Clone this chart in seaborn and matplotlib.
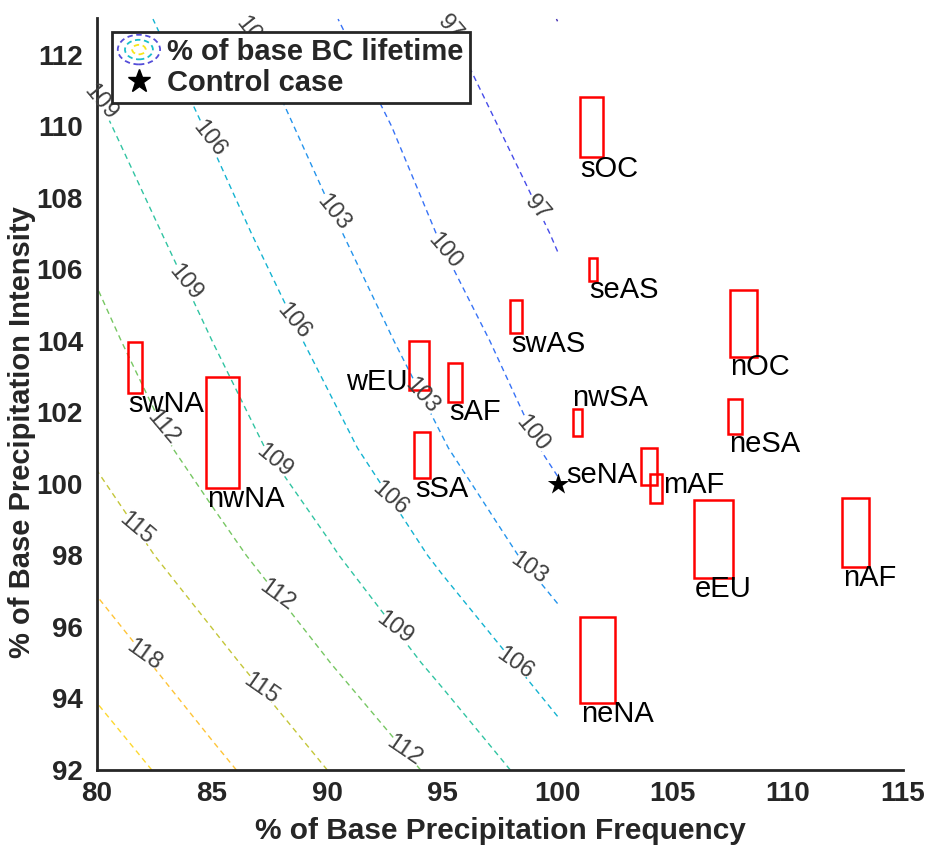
import numpy as np
import pandas as pd
import matplotlib
matplotlib.use("Agg")
import matplotlib.pyplot as plt
from matplotlib.patches import Rectangle, Ellipse
from matplotlib.legend_handler import HandlerBase
from matplotlib.lines import Line2D
from matplotlib.colors import LinearSegmentedColormap, Normalize
import seaborn as sns

# ---- BC lifetime (% of base) on the frequency / intensity grid ----
freq_grid = [80, 85, 90, 95, 100]
inten_grid = [92, 95, 98, 101, 104, 107, 110, 113]
lifetime_pct = [
    [123.0, 118.8, 115.0, 111.3, 107.4],
    [119.8, 115.9, 112.1, 108.3, 104.6],
    [116.9, 113.1, 109.4, 105.5, 101.7],
    [114.5, 110.7, 107.0, 103.2, 99.4],
    [112.8, 109.0, 105.2, 101.4, 98.0],
    [111.2, 107.3, 103.5, 99.8, 96.8],
    [109.5, 105.7, 101.9, 98.5, 95.4],
    [107.8, 104.1, 100.3, 97.1, 93.97],
]
contour_levels = [94, 97, 100, 103, 106, 109, 112, 115, 118, 121]

# ---- regional ranges of frequency / intensity change ----
regions = ["sOC", "seAS", "swAS", "nOC", "nwSA", "neSA", "seNA", "mAF",
           "eEU", "nAF", "neNA", "swNA", "nwNA", "wEU", "sAF", "sSA"]
freq_lo = [100.97, 101.35, 97.95, 107.47, 100.65, 107.38, 103.62, 104.01,
           105.92, 112.33, 100.97, 81.33, 84.75, 93.55, 95.23, 93.76]
freq_hi = [101.98, 101.72, 98.44, 108.66, 101.07, 108.02, 104.30, 104.55,
           107.60, 113.53, 102.49, 81.97, 86.15, 94.42, 95.86, 94.46]
inten_lo = [109.13, 105.68, 104.22, 103.56, 101.35, 101.40, 99.97, 99.48,
            97.37, 97.67, 93.88, 102.54, 99.88, 102.63, 102.29, 100.16]
inten_hi = [110.83, 106.33, 105.15, 105.41, 102.09, 102.37, 101.01, 100.28,
            99.55, 99.60, 96.29, 103.98, 103.00, 104.01, 103.39, 101.46]

control_case = {"freq": [100.0], "inten": [100.0]}

# ---- layout: where each region name sits (baseline, left/right anchor) ----
label_anchor = {
    "sOC": (100.97, 108.59, "left"), "seAS": (101.38, 105.19, "left"),
    "swAS": (98.00, 103.70, "left"), "nOC": (107.51, 103.05, "left"),
    "nwSA": (100.61, 102.18, "left"), "neSA": (107.43, 100.88, "left"),
    "seNA": (100.39, 100.02, "left"), "mAF": (104.59, 99.74, "left"),
    "eEU": (105.97, 96.83, "left"), "nAF": (112.41, 97.15, "left"),
    "neNA": (101.02, 93.35, "left"), "swNA": (81.36, 102.02, "left"),
    "nwNA": (84.76, 99.35, "left"), "wEU": (93.50, 102.63, "right"),
    "sAF": (95.28, 101.79, "left"), "sSA": (93.81, 99.64, "left"),
}
# contour label spots
clabel_spots = [
    (95.3, 112.7), (99.0, 107.6),
    (95.1, 106.5), (98.8, 101.3),
    (86.9, 112.7), (90.25, 107.6), (94.0, 102.35), (98.75, 97.6),
    (84.8, 109.6), (88.5, 104.5), (92.6, 99.4), (98.15, 95.0),
    (80.2, 110.7), (83.8, 105.6), (87.6, 100.5), (92.9, 95.9),
    (82.8, 101.5), (87.8, 96.85), (93.3, 92.5),
    (81.6, 98.6), (87.1, 94.25),
    (82.0, 95.15),
]

# parula-like colormap
parula = LinearSegmentedColormap.from_list("parula", [
    (0.000, (0.2422, 0.1504, 0.6603)),
    (0.125, (0.2810, 0.3228, 0.9578)),
    (0.250, (0.1786, 0.5289, 0.9682)),
    (0.375, (0.0689, 0.6948, 0.8394)),
    (0.500, (0.2161, 0.7843, 0.5923)),
    (0.625, (0.6720, 0.7793, 0.2227)),
    (0.750, (0.9970, 0.7659, 0.2199)),
    (0.875, (0.9892, 0.8720, 0.1780)),
    (1.000, (0.9769, 0.9839, 0.0805)),
])

sns.set_theme(style="white")
plt.rcParams["font.family"] = ["Liberation Sans", "DejaVu Sans"]
plt.rcParams["lines.dashed_pattern"] = [4.0, 3.0]

fig = plt.figure(figsize=(9.27, 8.48), dpi=100)
ax = fig.add_axes([0.1046, 0.092, 0.8695, 0.8868])

X, Y = np.meshgrid(freq_grid, inten_grid)
Z = np.array(lifetime_pct)
norm = Normalize(vmin=93.5, vmax=126.0)
cs = ax.contour(X, Y, Z, levels=contour_levels, cmap=parula, norm=norm,
                linestyles="--", linewidths=1.0, zorder=2)
labels = ax.clabel(cs, manual=clabel_spots, inline=True, inline_spacing=4,
                   fontsize=17, fmt="%d", colors="#404040")
for t in labels:
    t.set_clip_on(False)

# region boxes
for name, x0, x1, y0, y1 in zip(regions, freq_lo, freq_hi, inten_lo, inten_hi):
    ax.add_patch(Rectangle((x0, y0), x1 - x0, y1 - y0, fill=False,
                           edgecolor="#ff0000", linewidth=1.8, zorder=3))
    lx, ly, ha = label_anchor[name]
    ax.text(lx, ly, name, fontsize=21, color="black", ha=ha, va="baseline",
            zorder=4)

# control case
sns.scatterplot(data=pd.DataFrame(control_case), x="freq", y="inten",
                marker="*", s=260, color="black", linewidth=0, ax=ax,
                zorder=5, legend=False)

ax.set_xlim(80, 115)
ax.set_ylim(92, 113.03)
ax.set_xticks(np.arange(80, 116, 5))
ax.set_yticks(np.arange(92, 113, 2))
for s in ["top", "right"]:
    ax.spines[s].set_visible(False)
for s in ["left", "bottom"]:
    ax.spines[s].set_color("#262626")
    ax.spines[s].set_linewidth(2.0)
ax.tick_params(direction="in", length=8, width=1.6, color="#262626",
               labelsize=20, labelcolor="#262626")
ax.tick_params(axis="y", pad=10)
ax.tick_params(axis="x", pad=8)
for lab in ax.get_xticklabels() + ax.get_yticklabels():
    lab.set_fontweight("bold")
ax.set_xlabel("% of Base Precipitation Frequency", fontsize=21.5,
              fontweight="bold", color="#262626", labelpad=7)
ax.set_ylabel("% of Base Precipitation Intensity", fontsize=21,
              fontweight="bold", color="#262626")
ax.yaxis.set_label_coords(-0.0755, 0.45)


class ContourIcon(HandlerBase):
    def create_artists(self, legend, orig_handle, xdescent, ydescent,
                       width, height, fontsize, trans):
        cx = width / 2 - xdescent
        cy = height / 2 - ydescent
        arts = []
        for frac, col in [(1.0, (0.33, 0.30, 0.85)), (0.66, (0.10, 0.75, 0.80)),
                          (0.32, (0.97, 0.90, 0.10))]:
            e = Ellipse((cx, cy), width * frac, height * 1.45 * frac,
                        fill=False, edgecolor=col, linewidth=1.3,
                        linestyle=(0, (3, 2)), transform=trans)
            arts.append(e)
        return arts


contour_proxy = Line2D([], [])
star_proxy = Line2D([], [], marker="*", color="black", linestyle="none",
                    markersize=17)
leg = ax.legend([contour_proxy, star_proxy],
                ["% of base BC lifetime", "Control case"],
                handler_map={contour_proxy: ContourIcon()},
                loc="upper left", bbox_to_anchor=(0.0186, 0.9814),
                borderaxespad=0, fancybox=False, framealpha=1,
                edgecolor="#262626", handlelength=1.45, handletextpad=0.25,
                borderpad=0.2, labelspacing=0.12,
                prop={"size": 21, "weight": "bold"})
leg.get_frame().set_linewidth(2.0)
leg.set_zorder(10)

fig.savefig("out.png", dpi=100)
